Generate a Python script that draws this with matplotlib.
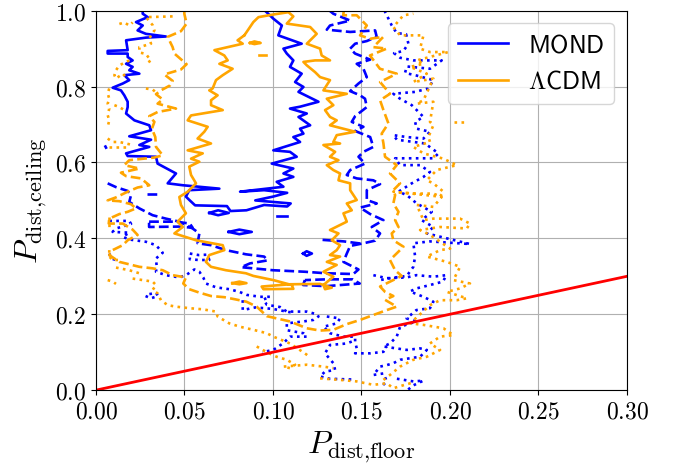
import matplotlib.pyplot as plt
from matplotlib.lines import Line2D

plt.rcParams['mathtext.fontset'] = 'cm'

# contour traces, points are (P_dist,floor, P_dist,ceiling)
mond_solid = [
    (0.0264, 1.0), (0.0264, 0.992), (0.0292, 0.983), (0.0226, 0.970), (0.0264, 0.961),
    (0.0235, 0.948), (0.0282, 0.939), (0.0395, 0.932), (0.0282, 0.929), (0.0170, 0.922),
    (0.0179, 0.896), (0.0066, 0.894), (0.0066, 0.887), (0.0179, 0.887), (0.0179, 0.878),
    (0.0207, 0.869), (0.0170, 0.860), (0.0207, 0.852), (0.0188, 0.843), (0.0245, 0.834),
    (0.0160, 0.830), (0.0188, 0.817), (0.0151, 0.808), (0.0094, 0.797), (0.0141, 0.790),
    (0.0160, 0.777), (0.0179, 0.760), (0.0179, 0.746), (0.0170, 0.729), (0.0217, 0.711),
    (0.0301, 0.698), (0.0311, 0.685), (0.0188, 0.669), (0.0311, 0.660), (0.0245, 0.646),
    (0.0301, 0.641), (0.0170, 0.624), (0.0179, 0.617), (0.0339, 0.615), (0.0348, 0.597),
    (0.0452, 0.571), (0.0405, 0.545), (0.0490, 0.540), (0.0697, 0.531), (0.0527, 0.527),
    (0.0508, 0.510), (0.0530, 0.500), (0.0560, 0.487), (0.0740, 0.485), (0.0760, 0.472),
    (0.0850, 0.474), (0.0950, 0.488), (0.1080, 0.484), (0.1100, 0.492), (0.0900, 0.500),
    (0.1000, 0.510), (0.1080, 0.520), (0.0950, 0.527), (0.0814, 0.523), (0.1059, 0.536),
    (0.1021, 0.549), (0.1115, 0.562), (0.1059, 0.571), (0.1115, 0.584), (0.0993, 0.597),
    (0.1134, 0.615), (0.1096, 0.628), (0.1002, 0.632), (0.1153, 0.654), (0.1115, 0.667),
    (0.1172, 0.676), (0.1153, 0.689), (0.1210, 0.698), (0.1144, 0.720), (0.1191, 0.729),
    (0.1096, 0.742), (0.1153, 0.747), (0.1257, 0.760), (0.1144, 0.786), (0.1172, 0.799),
    (0.1125, 0.812), (0.1162, 0.834), (0.1096, 0.852), (0.1115, 0.869), (0.1078, 0.887),
    (0.1059, 0.900), (0.1162, 0.913), (0.1030, 0.935), (0.1050, 0.961), (0.1002, 0.979),
    (0.0955, 1.0),
]
mond_solid_loops = [
    [(0.064, 0.467), (0.069, 0.474), (0.075, 0.467), (0.069, 0.461), (0.064, 0.467)],
    [(0.075, 0.417), (0.081, 0.423), (0.088, 0.417), (0.081, 0.411), (0.075, 0.417)],
    [(0.117, 0.360), (0.119, 0.366), (0.122, 0.360), (0.119, 0.354), (0.117, 0.360)],
    [(0.102, 0.460), (0.108, 0.460)],
]

lcdm_solid = [
    (0.0838, 0.935), (0.0800, 0.922), (0.0829, 0.913), (0.0669, 0.896), (0.0725, 0.882),
    (0.0744, 0.869), (0.0697, 0.860), (0.0772, 0.847), (0.0716, 0.830), (0.0678, 0.817),
    (0.0659, 0.795), (0.0640, 0.790), (0.0687, 0.777), (0.0650, 0.764), (0.0650, 0.751),
    (0.0716, 0.738), (0.0537, 0.724), (0.0518, 0.711), (0.0631, 0.694), (0.0612, 0.681),
    (0.0574, 0.663), (0.0650, 0.650), (0.0518, 0.632), (0.0603, 0.624), (0.0537, 0.610),
    (0.0584, 0.602), (0.0527, 0.589), (0.0537, 0.567), (0.0565, 0.545), (0.0518, 0.523),
    (0.0471, 0.509), (0.0480, 0.488), (0.0508, 0.466), (0.0461, 0.444), (0.0490, 0.430),
    (0.0443, 0.413), (0.0565, 0.395), (0.0716, 0.382), (0.0725, 0.369), (0.0640, 0.356),
    (0.0621, 0.338), (0.0650, 0.325), (0.0734, 0.316), (0.0847, 0.308), (0.0889, 0.301),
    (0.1002, 0.290), (0.1106, 0.277), (0.1115, 0.267), (0.0946, 0.266), (0.0936, 0.273),
    (0.1096, 0.279), (0.1266, 0.280), (0.1332, 0.270), (0.1294, 0.266), (0.1285, 0.277),
    (0.1341, 0.299), (0.1285, 0.312), (0.1360, 0.330), (0.1304, 0.338), (0.1379, 0.352),
    (0.1322, 0.356), (0.1360, 0.369), (0.1379, 0.382), (0.1332, 0.395), (0.1370, 0.413),
    (0.1322, 0.422), (0.1417, 0.444), (0.1398, 0.466), (0.1445, 0.474), (0.1417, 0.492),
    (0.1473, 0.501), (0.1436, 0.527), (0.1436, 0.545), (0.1370, 0.553), (0.1379, 0.571),
    (0.1341, 0.580), (0.1304, 0.593), (0.1370, 0.606), (0.1322, 0.615), (0.1351, 0.628),
    (0.1285, 0.646), (0.1379, 0.650), (0.1341, 0.654), (0.1360, 0.672), (0.1464, 0.681),
    (0.1322, 0.698), (0.1360, 0.711), (0.1322, 0.720), (0.1294, 0.738), (0.1341, 0.751),
    (0.1304, 0.768), (0.1417, 0.781), (0.1285, 0.790), (0.1322, 0.817), (0.1266, 0.825),
    (0.1238, 0.838), (0.1191, 0.856), (0.1172, 0.865), (0.1238, 0.869), (0.1322, 0.869),
    (0.1275, 0.882), (0.1266, 0.900), (0.1191, 0.913), (0.1247, 0.939), (0.1210, 0.957),
    (0.1078, 0.966), (0.1115, 0.985), (0.1087, 0.996), (0.1002, 0.990), (0.0918, 0.983),
    (0.0889, 0.970), (0.0860, 0.950), (0.0838, 0.935),
]
lcdm_solid_loops = [
    [(0.087, 0.915), (0.0895, 0.919), (0.093, 0.915), (0.0895, 0.912), (0.087, 0.915)],
    [(0.092, 0.882), (0.096, 0.882)],
    [(0.077, 0.282), (0.081, 0.286), (0.085, 0.282), (0.081, 0.279), (0.077, 0.282)],
]

mond_dashed = [
    (0.0066, 0.545), (0.0113, 0.535), (0.0179, 0.525), (0.0198, 0.514), (0.0188, 0.496),
    (0.0245, 0.479), (0.0320, 0.461), (0.0395, 0.452), (0.0471, 0.444), (0.0546, 0.426),
    (0.0584, 0.413), (0.0574, 0.387), (0.0650, 0.382), (0.0734, 0.369), (0.0847, 0.358),
    (0.0950, 0.352), (0.0970, 0.342), (0.0870, 0.334), (0.0820, 0.324), (0.1000, 0.316),
    (0.1180, 0.312), (0.1300, 0.308), (0.1454, 0.306), (0.1483, 0.318), (0.1398, 0.338),
    (0.1417, 0.360), (0.1436, 0.380), (0.1511, 0.387), (0.1577, 0.394), (0.1605, 0.413),
    (0.1558, 0.430), (0.1624, 0.448), (0.1549, 0.464), (0.1492, 0.481), (0.1586, 0.492),
    (0.1530, 0.501), (0.1530, 0.527), (0.1605, 0.543), (0.1567, 0.553), (0.1473, 0.558),
    (0.1417, 0.567), (0.1436, 0.580), (0.1520, 0.597), (0.1483, 0.615), (0.1511, 0.628),
    (0.1567, 0.641), (0.1549, 0.667), (0.1464, 0.683), (0.1511, 0.694), (0.1445, 0.707),
    (0.1464, 0.722), (0.1530, 0.746), (0.1520, 0.768), (0.1492, 0.777), (0.1436, 0.788),
    (0.1483, 0.808), (0.1530, 0.825), (0.1511, 0.847), (0.1473, 0.860), (0.1549, 0.871),
    (0.1464, 0.887), (0.1436, 0.900), (0.1464, 0.913), (0.1530, 0.920), (0.1586, 0.931),
    (0.1577, 0.948), (0.1436, 0.944), (0.1304, 0.950), (0.1322, 0.961), (0.1436, 0.974),
    (0.1341, 0.992), (0.1320, 1.0),
]
mond_dashed_bits = [
    [(0.030, 0.444), (0.045, 0.444), (0.053, 0.439), (0.0546, 0.428), (0.047, 0.431),
     (0.030, 0.430), (0.030, 0.444)],
    [(0.118, 0.290), (0.117, 0.277), (0.130, 0.274), (0.149, 0.281), (0.145, 0.292),
     (0.130, 0.292), (0.118, 0.290)],
    [(0.128, 0.396), (0.140, 0.392), (0.150, 0.386)],
    [(0.029, 0.518), (0.036, 0.518)],
    [(0.005, 0.645), (0.006, 0.636)],
]

lcdm_dashed = [
    (0.0499, 1.0), (0.0499, 0.992), (0.0512, 0.966), (0.0480, 0.946), (0.0405, 0.931),
    (0.0433, 0.904), (0.0443, 0.887), (0.0512, 0.859), (0.0480, 0.845), (0.0386, 0.832),
    (0.0433, 0.815), (0.0418, 0.803), (0.0367, 0.790), (0.0339, 0.780), (0.0377, 0.766),
    (0.0348, 0.755), (0.0452, 0.742), (0.0348, 0.733), (0.0301, 0.722), (0.0330, 0.707),
    (0.0316, 0.689), (0.0335, 0.667), (0.0339, 0.641), (0.0377, 0.619), (0.0330, 0.613),
    (0.0188, 0.606), (0.0160, 0.593), (0.0245, 0.584), (0.0141, 0.573), (0.0170, 0.564),
    (0.0254, 0.558), (0.0301, 0.540), (0.0235, 0.534), (0.0179, 0.523), (0.0113, 0.508),
    (0.0066, 0.500), (0.0132, 0.498), (0.0198, 0.490), (0.0226, 0.479), (0.0179, 0.470),
    (0.0132, 0.464), (0.0075, 0.452), (0.0072, 0.439), (0.0151, 0.439), (0.0207, 0.423),
    (0.0235, 0.409), (0.0179, 0.395), (0.0151, 0.382), (0.0094, 0.369), (0.0075, 0.356),
    (0.0132, 0.338), (0.0245, 0.325), (0.0320, 0.321), (0.0377, 0.316), (0.0433, 0.303),
    (0.0508, 0.297), (0.0493, 0.281), (0.0527, 0.266), (0.0584, 0.257), (0.0650, 0.248),
    (0.0725, 0.245), (0.0790, 0.239), (0.0850, 0.233), (0.0908, 0.220), (0.0965, 0.195),
    (0.1096, 0.181), (0.1191, 0.163), (0.1266, 0.157), (0.1341, 0.159), (0.1417, 0.174),
    (0.1492, 0.185), (0.1567, 0.198), (0.1643, 0.211), (0.1699, 0.220), (0.1633, 0.238),
    (0.1680, 0.248), (0.1633, 0.259), (0.1605, 0.273), (0.1727, 0.301), (0.1690, 0.316),
    (0.1661, 0.343), (0.1709, 0.365), (0.1737, 0.378), (0.1680, 0.395), (0.1671, 0.413),
    (0.1709, 0.430), (0.1690, 0.448), (0.1709, 0.470), (0.1680, 0.492), (0.1690, 0.514),
    (0.1680, 0.527), (0.1718, 0.545), (0.1661, 0.571), (0.1699, 0.593), (0.1633, 0.615),
    (0.1624, 0.650), (0.1614, 0.676), (0.1652, 0.703), (0.1624, 0.738), (0.1605, 0.764),
    (0.1661, 0.781), (0.1605, 0.812), (0.1699, 0.834), (0.1604, 0.847), (0.1548, 0.882),
    (0.1642, 0.900), (0.1567, 0.904), (0.1623, 0.931), (0.1548, 0.926), (0.1492, 0.935),
    (0.1530, 0.961), (0.1473, 0.988), (0.1397, 0.988), (0.1400, 1.0),
]

mond_dotted = [
    [(0.1630, 1.0), (0.1643, 0.988), (0.1671, 0.961), (0.1699, 0.941), (0.1752, 0.938),
     (0.1765, 0.913), (0.1737, 0.894), (0.1684, 0.888), (0.1718, 0.876), (0.1793, 0.869),
     (0.1869, 0.869), (0.1953, 0.869), (0.1887, 0.847), (0.1756, 0.853), (0.1746, 0.836),
     (0.1812, 0.829), (0.1906, 0.817), (0.1878, 0.795), (0.1803, 0.786), (0.1680, 0.781),
     (0.1718, 0.768), (0.1784, 0.751), (0.1812, 0.738), (0.1850, 0.720), (0.1803, 0.707),
     (0.1812, 0.689), (0.1887, 0.681), (0.1850, 0.663), (0.1756, 0.667), (0.1680, 0.672),
     (0.1700, 0.660), (0.1859, 0.650), (0.1935, 0.624), (0.1906, 0.611), (0.1793, 0.611),
     (0.1690, 0.611), (0.1718, 0.593), (0.1831, 0.593), (0.1887, 0.575), (0.1850, 0.562),
     (0.1784, 0.545), (0.1709, 0.523), (0.1756, 0.514), (0.1812, 0.492), (0.1897, 0.470),
     (0.1840, 0.448), (0.1906, 0.430), (0.1869, 0.413), (0.2113, 0.385), (0.1887, 0.392),
     (0.1793, 0.387), (0.1803, 0.352), (0.1793, 0.325), (0.1756, 0.301), (0.1661, 0.295),
     (0.1605, 0.290)],
    [(0.1567, 0.303), (0.1643, 0.295), (0.1755, 0.297), (0.1810, 0.303), (0.1906, 0.299),
     (0.1980, 0.303), (0.1960, 0.286), (0.1887, 0.277), (0.1810, 0.268), (0.1774, 0.260),
     (0.1850, 0.246), (0.1906, 0.233), (0.1887, 0.216), (0.1810, 0.211), (0.1755, 0.189),
     (0.1810, 0.181), (0.1718, 0.167), (0.1699, 0.141), (0.1661, 0.123), (0.1624, 0.115),
     (0.1756, 0.106), (0.1831, 0.110), (0.1869, 0.106), (0.1831, 0.088), (0.1774, 0.084),
     (0.1718, 0.080), (0.1680, 0.071), (0.1643, 0.066), (0.1605, 0.062), (0.1567, 0.040),
     (0.1624, 0.044), (0.1643, 0.023), (0.1614, 0.010)],
    [(0.1700, 0.030), (0.1793, 0.023), (0.1850, 0.025), (0.1790, 0.012), (0.1760, 0.0)],
    [(0.0075, 0.446), (0.0188, 0.446), (0.0198, 0.438), (0.0113, 0.426), (0.0094, 0.417),
     (0.0188, 0.415), (0.0151, 0.404), (0.0188, 0.397), (0.0282, 0.391), (0.0339, 0.382),
     (0.0377, 0.362), (0.0339, 0.347), (0.0343, 0.325), (0.0339, 0.312), (0.0395, 0.303),
     (0.0471, 0.297), (0.0508, 0.303), (0.0556, 0.318), (0.0584, 0.312), (0.0606, 0.297),
     (0.0621, 0.281), (0.0678, 0.271), (0.0753, 0.266), (0.0810, 0.259), (0.0852, 0.251),
     (0.0927, 0.246), (0.0984, 0.246), (0.0946, 0.239), (0.0965, 0.225), (0.1040, 0.219),
     (0.1078, 0.207), (0.1191, 0.207), (0.1247, 0.200), (0.1257, 0.194), (0.1228, 0.185),
     (0.1172, 0.181), (0.1078, 0.176), (0.1078, 0.158), (0.1172, 0.150), (0.1191, 0.141),
     (0.1096, 0.141), (0.1059, 0.124), (0.1002, 0.106), (0.0940, 0.100)],
    [(0.0829, 0.237), (0.0829, 0.211), (0.0900, 0.218), (0.1000, 0.214), (0.1100, 0.205)],
    [(0.1304, 0.194), (0.1379, 0.189), (0.1360, 0.176), (0.1285, 0.167), (0.1322, 0.150),
     (0.1398, 0.141), (0.1464, 0.141), (0.1464, 0.128), (0.1473, 0.110), (0.1464, 0.097),
     (0.1550, 0.097), (0.1624, 0.101), (0.1643, 0.115)],
    [(0.1445, 0.128), (0.1417, 0.123), (0.1322, 0.119), (0.1294, 0.097), (0.1341, 0.071),
     (0.1351, 0.053), (0.1294, 0.049), (0.1266, 0.036), (0.1320, 0.030), (0.1450, 0.028)],
    [(0.053, 0.360), (0.058, 0.356), (0.063, 0.357), (0.064, 0.343), (0.058, 0.343),
     (0.053, 0.345), (0.053, 0.360)],
    [(0.028, 0.248), (0.031, 0.242), (0.035, 0.248), (0.034, 0.256), (0.030, 0.253),
     (0.028, 0.248)],
    [(0.0075, 0.360), (0.0085, 0.347), (0.0113, 0.343)],
]

lcdm_dotted = [
    [(0.0132, 0.965), (0.0160, 0.969), (0.0188, 0.961), (0.0207, 0.969)],
    [(0.0433, 0.985), (0.0282, 0.983), (0.0320, 0.962), (0.0330, 0.948), (0.0311, 0.935),
     (0.0301, 0.926), (0.0311, 0.913), (0.0245, 0.904), (0.0245, 0.890), (0.0282, 0.886),
     (0.0301, 0.874), (0.0311, 0.869), (0.0282, 0.860)],
    [(0.0188, 0.869), (0.0132, 0.856), (0.0113, 0.843), (0.0104, 0.830), (0.0113, 0.821),
     (0.0151, 0.834), (0.0170, 0.825)],
    [(0.0075, 0.795), (0.0066, 0.782), (0.0075, 0.768), (0.0066, 0.755), (0.0075, 0.742),
     (0.0066, 0.725), (0.0075, 0.711), (0.0066, 0.694)],
    [(0.0104, 0.751), (0.0132, 0.746), (0.0160, 0.738)],
    [(0.0282, 0.795), (0.0320, 0.792), (0.0350, 0.781)],
    [(0.0066, 0.663), (0.0094, 0.654), (0.0132, 0.654), (0.0170, 0.650), (0.0207, 0.646)],
    [(0.0075, 0.641), (0.0188, 0.641)],
    [(0.0075, 0.457), (0.0075, 0.444), (0.0075, 0.430)],
    [(0.0075, 0.369), (0.0075, 0.352), (0.0094, 0.343), (0.0132, 0.343)],
    [(0.0113, 0.323), (0.0188, 0.316), (0.0245, 0.308)],
    [(0.0066, 0.290), (0.0094, 0.286), (0.0113, 0.280)],
    [(0.0207, 0.294), (0.0264, 0.290), (0.0320, 0.286), (0.0339, 0.277), (0.0320, 0.264),
     (0.0348, 0.255), (0.0367, 0.237), (0.0405, 0.224), (0.0452, 0.220), (0.0527, 0.216),
     (0.0603, 0.213), (0.0678, 0.207), (0.0687, 0.194), (0.0753, 0.176), (0.0814, 0.167),
     (0.0889, 0.159), (0.0965, 0.150), (0.1002, 0.141), (0.1096, 0.123), (0.1180, 0.097),
     (0.1200, 0.090)],
    [(0.0908, 0.115), (0.0965, 0.100), (0.1020, 0.088), (0.1078, 0.080), (0.1125, 0.067),
     (0.1096, 0.058), (0.1059, 0.062), (0.1191, 0.067), (0.1285, 0.062), (0.1341, 0.058)],
    [(0.1266, 0.031), (0.1379, 0.027), (0.1473, 0.023), (0.1567, 0.014), (0.1643, 0.018),
     (0.1680, 0.005), (0.1737, 0.013), (0.1790, 0.020)],
    [(0.1624, 0.027), (0.1661, 0.040), (0.1718, 0.062), (0.1793, 0.080), (0.1869, 0.088),
     (0.1944, 0.106), (0.1887, 0.123), (0.1944, 0.141), (0.2019, 0.145), (0.1963, 0.163),
     (0.1850, 0.172), (0.1775, 0.176), (0.1887, 0.224), (0.1944, 0.237), (0.2038, 0.237),
     (0.2095, 0.242), (0.1982, 0.259), (0.2057, 0.268), (0.2113, 0.281), (0.2019, 0.290),
     (0.2057, 0.325), (0.1982, 0.338), (0.1869, 0.352), (0.1944, 0.369), (0.2001, 0.373),
     (0.1887, 0.409), (0.1831, 0.422), (0.1944, 0.430), (0.2095, 0.426), (0.2113, 0.439),
     (0.2057, 0.452), (0.1906, 0.452), (0.1850, 0.448), (0.1812, 0.488), (0.1906, 0.483),
     (0.1953, 0.509), (0.1906, 0.518), (0.1793, 0.518), (0.1680, 0.523), (0.1944, 0.510),
     (0.1963, 0.523), (0.1906, 0.545), (0.1869, 0.553), (0.1925, 0.580), (0.2038, 0.593),
     (0.1963, 0.610), (0.1850, 0.624), (0.1793, 0.641), (0.1887, 0.654), (0.1878, 0.667),
     (0.1906, 0.698), (0.1887, 0.707), (0.1906, 0.760), (0.1812, 0.755), (0.1850, 0.764),
     (0.1906, 0.821), (0.1793, 0.812), (0.1869, 0.834), (0.1775, 0.852), (0.1850, 0.860),
     (0.1812, 0.869), (0.1991, 0.891), (0.1887, 0.891), (0.1831, 0.900), (0.1850, 0.935),
     (0.1793, 0.935), (0.1718, 0.935), (0.1680, 0.957), (0.1737, 0.988), (0.1793, 0.992)],
    [(0.2020, 0.707), (0.2085, 0.707)],
]

red_x = [0.0, 0.3]
red_y = [0.0, 0.3]

xticks = [0.0, 0.05, 0.10, 0.15, 0.20, 0.25, 0.30]
yticks = [0.0, 0.2, 0.4, 0.6, 0.8, 1.0]

fig, ax = plt.subplots(figsize=(6.76, 4.65), dpi=100)
fig.subplots_adjust(left=0.142, right=0.9275, bottom=0.161, top=0.977)


def draw(curves, color, ls):
    for c in curves:
        xs = [p[0] for p in c]
        ys = [p[1] for p in c]
        ax.plot(xs, ys, color=color, ls=ls, lw=1.9)


draw([mond_solid] + mond_solid_loops, 'blue', '-')
draw([mond_dashed] + mond_dashed_bits, 'blue', '--')
draw(mond_dotted, 'blue', ':')
draw([lcdm_solid] + lcdm_solid_loops, 'orange', '-')
draw([lcdm_dashed], 'orange', '--')
draw(lcdm_dotted, 'orange', ':')

ax.plot(red_x, red_y, color='red', lw=2)

ax.set_xlim(0, 0.3)
ax.set_ylim(0, 1)
ax.set_xticks(xticks)
ax.set_xticklabels([f'${t:.2f}$' for t in xticks])
ax.set_yticks(yticks)
ax.set_yticklabels([f'${t:.1f}$' for t in yticks])
ax.tick_params(labelsize=17)
ax.grid(True)
ax.set_xlabel(r'$P_{\rm dist{,}floor}$', fontsize=23)
ax.set_ylabel(r'$P_{\rm dist{,}ceiling}$', fontsize=23)

handles = [Line2D([], [], color='blue', lw=1.9), Line2D([], [], color='orange', lw=1.9)]
ax.legend(handles, [r'$\mathsf{MOND}$', r'$\Lambda\mathsf{CDM}$'], loc='upper right', fontsize=18)

fig.savefig('out.png')
